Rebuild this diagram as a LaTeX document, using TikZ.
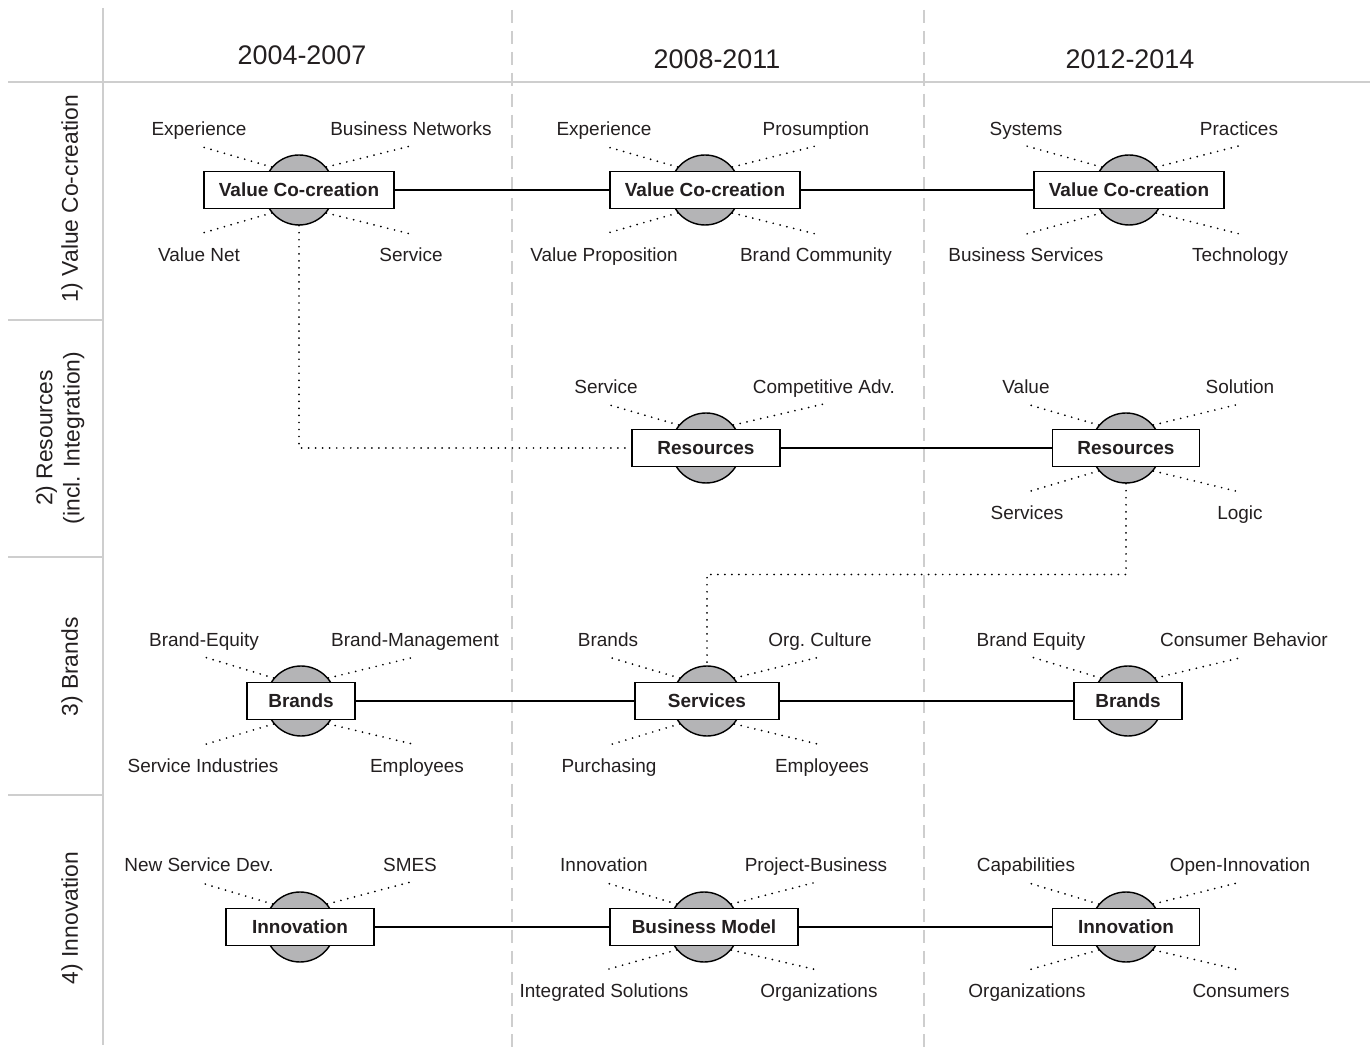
\documentclass[tikz,border=0pt]{standalone}
\usepackage{fontspec}
\setmainfont{Liberation Sans}
\usetikzlibrary{calc}

\definecolor{hubgray}{RGB}{180,180,182}
\definecolor{gridgray}{RGB}{206,206,206}
\definecolor{ink}{RGB}{35,31,32}

\tikzset{
  topic/.style={rectangle, draw=black, line width=0.8pt, fill=white, minimum height=0.74cm, font=\fontsize{10.8}{13}\selectfont\bfseries, text=ink},
  hub/.style={circle, draw=black, line width=0.8pt, fill=hubgray, minimum size=1.4cm},
  keyword/.style={font=\fontsize{10.8}{13}\selectfont, text=ink, inner sep=1pt, text height=8pt, text depth=2.4pt, yshift=-0.08cm},
  spoke/.style={line width=1.1pt, dash pattern=on 0pt off 4pt, line cap=round},
  link/.style={line width=0.8pt},
  gridline/.style={draw=gridgray, line width=1.1pt},
  period/.style={font=\fontsize{15.3}{18}\selectfont, text=ink},
  theme/.style={rotate=90, align=center, font=\fontsize{13}{15.5}\selectfont, text=ink},
}

\newcommand{\Hub}[5]{%
  \node (#1c) at (#2,#3) [hub] {};
  \node (#1) at (#2,#3) [topic, minimum width=#4cm] {#5};
}
\newcommand{\Keyword}[5]{%
  \node (#1-#2) at ($(#1c)+(#3,#4)$) [keyword] {#5};
  \coordinate (#1-#2e) at ($(#1c)+(#3,0.7*#4)$);
  \draw[spoke] (#1c.#2) -- (#1-#2e);
}

\begin{document}
\begin{tikzpicture}[x=0.02cm, y=-0.02cm]

\useasboundingbox (0,0) rectangle (1370,1050);

% table lines
\draw[gridline] (8,82) -- (1370,82);
\draw[gridline] (103,8) -- (103,1045);
\foreach \y in {320,557,795}
	\draw[gridline] (8,\y) -- (103,\y);
\foreach \x in {512,924}
	\draw[gridline, dash pattern=on 7.4pt off 4.5pt] (\x,10) -- (\x,1050);

\node (p1) at (302,55) [period] {2004-2007};
\node (p2) at (717,59) [period] {2008-2011};
\node (p3) at (1130,59) [period] {2012-2014};

\node (t1) at (72,199) [theme] {1) Value Co-creation};
\node (t2) at (60,438) [theme] {2) Resources\\(incl. Integration)};
\node (t3) at (72,667) [theme] {3) Brands};
\node (t4) at (72,918) [theme] {4) Innovation};

% row 1
\Hub{vc1}{299}{190}{3.8}{Value Co-creation}
\Keyword{vc1}{140}{-100}{-63}{Experience}
\Keyword{vc1}{40}{112}{-63}{Business Networks}
\Keyword{vc1}{220}{-100}{63}{Value Net}
\Keyword{vc1}{320}{112}{63}{Service}

\Hub{vc2}{705}{190}{3.8}{Value Co-creation}
\Keyword{vc2}{140}{-101}{-63}{Experience}
\Keyword{vc2}{40}{111}{-63}{Prosumption}
\Keyword{vc2}{220}{-101}{63}{Value Proposition}
\Keyword{vc2}{320}{111}{63}{Brand Community}

\Hub{vc3}{1129}{190}{3.8}{Value Co-creation}
\Keyword{vc3}{140}{-103}{-63}{Systems}
\Keyword{vc3}{40}{110}{-63}{Practices}
\Keyword{vc3}{220}{-103}{63}{Business Services}
\Keyword{vc3}{320}{111}{63}{Technology}

% row 2
\Hub{res2}{706}{448}{2.96}{Resources}
\Keyword{res2}{140}{-100}{-63}{Service}
\Keyword{res2}{40}{118}{-63}{Competitive Adv.}

\Hub{res3}{1126}{448}{2.94}{Resources}
\Keyword{res3}{140}{-100}{-63}{Value}
\Keyword{res3}{40}{114}{-63}{Solution}
\Keyword{res3}{220}{-99}{63}{Services}
\Keyword{res3}{320}{114}{63}{Logic}

% row 3
\Hub{br1}{301}{701}{2.16}{Brands}
\Keyword{br1}{140}{-97}{-63}{Brand-Equity}
\Keyword{br1}{40}{114}{-63}{Brand-Management}
\Keyword{br1}{220}{-98}{63}{Service Industries}
\Keyword{br1}{320}{116}{63}{Employees}

\Hub{sv2}{707}{701}{2.88}{Services}
\Keyword{sv2}{140}{-99}{-63}{Brands}
\Keyword{sv2}{40}{113}{-63}{Org.\ Culture}
\Keyword{sv2}{220}{-98}{63}{Purchasing}
\Keyword{sv2}{320}{115}{63}{Employees}

\Hub{br3}{1128}{701}{2.16}{Brands}
\Keyword{br3}{140}{-97}{-63}{Brand Equity}
\Keyword{br3}{40}{116}{-63}{Consumer Behavior}

% row 4
\Hub{in1}{300}{927}{2.96}{Innovation}
\Keyword{in1}{140}{-101}{-64}{New Service Dev.}
\Keyword{in1}{40}{110}{-64}{SMES}

\Hub{bm2}{704}{927}{3.76}{Business Model}
\Keyword{bm2}{140}{-100}{-64}{Innovation}
\Keyword{bm2}{40}{112}{-64}{Project-Business}
\Keyword{bm2}{220}{-100}{62}{Integrated Solutions}
\Keyword{bm2}{320}{115}{62}{Organizations}

\Hub{in3}{1126}{927}{2.94}{Innovation}
\Keyword{in3}{140}{-100}{-64}{Capabilities}
\Keyword{in3}{40}{114}{-64}{Open-Innovation}
\Keyword{in3}{220}{-99}{62}{Organizations}
\Keyword{in3}{320}{115}{62}{Consumers}

% links
\draw[link] (vc1) -- (vc2);
\draw[link] (vc2) -- (vc3);
\draw[link] (res2) -- (res3);
\draw[link] (br1) -- (sv2);
\draw[link] (sv2) -- (br3);
\draw[link] (in1) -- (bm2);
\draw[link] (bm2) -- (in3);
\draw[spoke] (vc1c.south) |- (res2.west);
\draw[spoke] (res3c.south) |- ($(res3c.south)!.5!(sv2c.north)$) -| (sv2c.north);

\end{tikzpicture}
\end{document}
